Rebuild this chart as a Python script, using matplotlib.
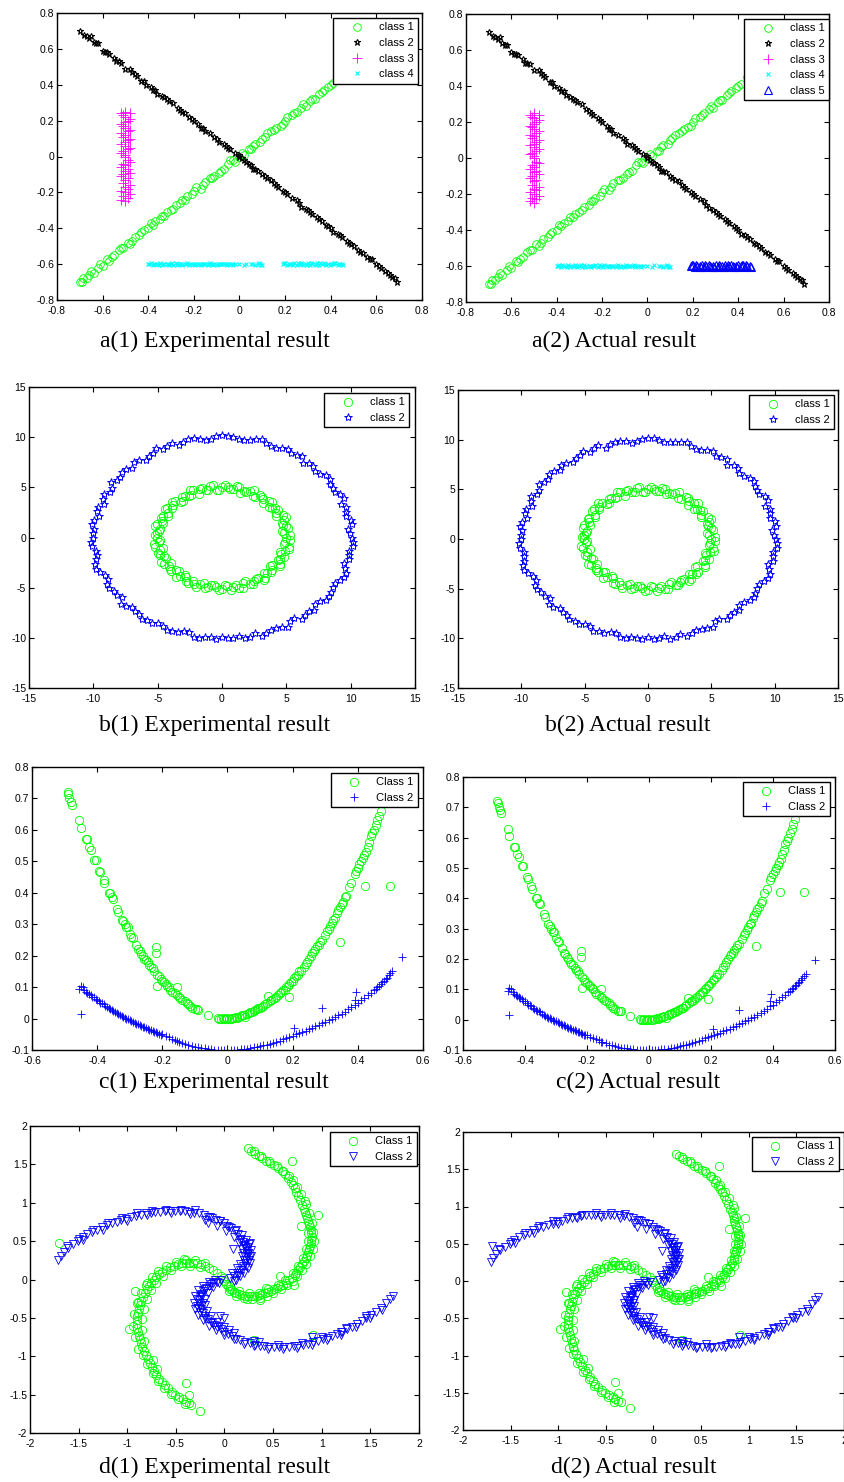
"""
clusters_resultados.py
======================
Comparación entre el resultado experimental del agrupamiento y la
clasificación real para cuatro conjuntos de datos sintéticos.
"""

import numpy as np
import matplotlib.pyplot as plt
from matplotlib.ticker import FixedLocator, FuncFormatter

plt.rcParams['axes.unicode_minus'] = False
plt.rcParams['font.family'] = ['Liberation Sans', 'DejaVu Sans']

# Colores tipo MATLAB
VERDE = '#00ff00'
AZUL = '#0000ff'
NEGRO = '#000000'
MAGENTA = '#ff00ff'
CIAN = '#00ffff'

ANCHO, ALTO = 845, 1482

# ---------------------------------------------------------------------------
# Datos (a): dos rectas cruzadas, una vertical y una horizontal
# ---------------------------------------------------------------------------
a_clase1 = [(-0.70, -0.70), (-0.69, -0.70), (-0.67, -0.68), (-0.65, -0.64), (-0.64, -0.65),
            (-0.62, -0.62), (-0.60, -0.61), (-0.58, -0.57), (-0.57, -0.58), (-0.55, -0.55),
            (-0.53, -0.52), (-0.51, -0.51), (-0.49, -0.48), (-0.48, -0.49), (-0.46, -0.45),
            (-0.44, -0.44), (-0.42, -0.41), (-0.40, -0.40), (-0.39, -0.37), (-0.37, -0.36),
            (-0.35, -0.35), (-0.33, -0.33), (-0.32, -0.31), (-0.30, -0.30), (-0.28, -0.27),
            (-0.26, -0.26), (-0.25, -0.24), (-0.23, -0.22), (-0.21, -0.21), (-0.19, -0.17),
            (-0.17, -0.18), (-0.15, -0.14), (-0.13, -0.12), (-0.11, -0.11), (-0.09, -0.09),
            (-0.07, -0.07), (-0.05, -0.04), (-0.04, -0.02), (-0.02, -0.03), (0.00, 0.00),
            (0.02, 0.01), (0.04, 0.04), (0.05, 0.04), (0.07, 0.07), (0.09, 0.08),
            (0.11, 0.11), (0.12, 0.13), (0.14, 0.14), (0.16, 0.16), (0.18, 0.17),
            (0.20, 0.20), (0.21, 0.22), (0.23, 0.23), (0.25, 0.25), (0.27, 0.27),
            (0.29, 0.28), (0.31, 0.31), (0.33, 0.32), (0.35, 0.35), (0.37, 0.37),
            (0.39, 0.39), (0.41, 0.41), (0.44, 0.45), (0.48, 0.48), (0.52, 0.52),
            (0.56, 0.57), (0.60, 0.60), (0.64, 0.64), (0.68, 0.68),
            (-0.685, -0.68), (-0.66, -0.66), (-0.61, -0.60), (-0.56, -0.56), (-0.52, -0.51),
            (-0.47, -0.47), (-0.43, -0.42), (-0.38, -0.38), (-0.34, -0.33), (-0.29, -0.29),
            (-0.24, -0.24), (-0.20, -0.19), (-0.16, -0.16), (-0.12, -0.12), (-0.08, -0.08),
            (-0.03, -0.02), (0.01, 0.02), (0.06, 0.06), (0.10, 0.10), (0.15, 0.15),
            (0.19, 0.18), (0.24, 0.24), (0.28, 0.29), (0.32, 0.32), (0.36, 0.36), (0.40, 0.40)]

a_clase2 = [(-0.70, 0.70), (-0.67, 0.67), (-0.66, 0.66), (-0.65, 0.67), (-0.64, 0.64),
            (-0.62, 0.63), (-0.60, 0.59), (-0.58, 0.58), (-0.57, 0.57), (-0.55, 0.55),
            (-0.54, 0.53), (-0.52, 0.52), (-0.50, 0.49), (-0.48, 0.49), (-0.47, 0.47),
            (-0.45, 0.45), (-0.43, 0.42), (-0.41, 0.40), (-0.39, 0.39), (-0.37, 0.37),
            (-0.36, 0.35), (-0.34, 0.34), (-0.33, 0.33), (-0.31, 0.31), (-0.29, 0.30),
            (-0.27, 0.27), (-0.25, 0.25), (-0.24, 0.24), (-0.22, 0.22), (-0.20, 0.20),
            (-0.18, 0.18), (-0.17, 0.16), (-0.15, 0.14), (-0.13, 0.13), (-0.11, 0.11),
            (-0.09, 0.08), (-0.07, 0.07), (-0.06, 0.06), (-0.04, 0.04), (-0.02, 0.02),
            (0.00, 0.01), (0.01, -0.01), (0.03, -0.03), (0.05, -0.05), (0.06, -0.07),
            (0.08, -0.08), (0.10, -0.10), (0.12, -0.12), (0.14, -0.13), (0.16, -0.16),
            (0.17, -0.17), (0.19, -0.19), (0.21, -0.21), (0.23, -0.23), (0.25, -0.24),
            (0.27, -0.28), (0.29, -0.29), (0.31, -0.31), (0.32, -0.32), (0.34, -0.34),
            (0.36, -0.36), (0.38, -0.38), (0.40, -0.40), (0.41, -0.42), (0.43, -0.43),
            (0.45, -0.45), (0.47, -0.47), (0.49, -0.49), (0.50, -0.50), (0.52, -0.52),
            (0.54, -0.54), (0.56, -0.56), (0.58, -0.57), (0.60, -0.60), (0.62, -0.62),
            (0.64, -0.64), (0.66, -0.66), (0.68, -0.68), (0.69, -0.70),
            (-0.68, 0.68), (-0.63, 0.63), (-0.59, 0.58), (-0.53, 0.53), (-0.46, 0.46),
            (-0.42, 0.42), (-0.38, 0.37), (-0.32, 0.32), (-0.26, 0.26), (-0.21, 0.21),
            (-0.16, 0.16), (-0.10, 0.10), (-0.05, 0.05), (0.00, 0.00), (0.02, -0.02),
            (0.04, -0.04), (0.07, -0.07), (0.11, -0.11), (0.15, -0.15), (0.20, -0.20),
            (0.26, -0.26), (0.30, -0.30), (0.35, -0.35), (0.39, -0.39), (0.44, -0.44),
            (0.48, -0.48), (0.53, -0.53), (0.57, -0.57), (0.61, -0.61), (0.65, -0.65),
            (0.67, -0.67)]

a_clase3 = [(-0.50, -0.25), (-0.49, -0.23), (-0.51, -0.22), (-0.50, -0.20), (-0.49, -0.18),
            (-0.50, -0.17), (-0.51, -0.15), (-0.50, -0.13), (-0.49, -0.12), (-0.51, -0.10),
            (-0.50, -0.08), (-0.49, -0.07), (-0.50, -0.05), (-0.51, -0.04), (-0.49, -0.02),
            (-0.50, 0.00), (-0.50, 0.01), (-0.51, 0.03), (-0.49, 0.04), (-0.50, 0.06),
            (-0.50, 0.08), (-0.49, 0.09), (-0.51, 0.11), (-0.50, 0.12), (-0.49, 0.14),
            (-0.50, 0.16), (-0.51, 0.17), (-0.50, 0.19), (-0.49, 0.20), (-0.50, 0.22),
            (-0.51, 0.23), (-0.50, 0.25),
            (-0.52, -0.24), (-0.48, -0.21), (-0.52, -0.19), (-0.48, -0.16), (-0.52, -0.11),
            (-0.48, -0.09), (-0.52, -0.06), (-0.48, -0.03), (-0.52, 0.02), (-0.48, 0.05),
            (-0.52, 0.07), (-0.48, 0.10), (-0.52, 0.13), (-0.48, 0.15), (-0.52, 0.18),
            (-0.48, 0.21), (-0.52, 0.24), (-0.48, 0.24)]

a_clase4 = [(-0.40, -0.600), (-0.39, -0.595), (-0.38, -0.605), (-0.37, -0.598), (-0.36, -0.602),
            (-0.35, -0.596), (-0.34, -0.604), (-0.33, -0.600), (-0.32, -0.597), (-0.31, -0.603),
            (-0.30, -0.599), (-0.29, -0.605), (-0.28, -0.596), (-0.27, -0.601), (-0.26, -0.598),
            (-0.25, -0.603), (-0.24, -0.600), (-0.23, -0.596), (-0.22, -0.604), (-0.21, -0.599),
            (-0.20, -0.602), (-0.19, -0.597), (-0.18, -0.601), (-0.17, -0.605), (-0.16, -0.598),
            (-0.15, -0.600), (-0.14, -0.603), (-0.13, -0.596), (-0.12, -0.601), (-0.11, -0.599),
            (-0.10, -0.604), (-0.09, -0.598), (-0.08, -0.600), (-0.07, -0.602), (-0.06, -0.597),
            (-0.05, -0.601), (-0.04, -0.599), (-0.03, -0.604), (-0.02, -0.598), (0.00, -0.601),
            (0.02, -0.603), (0.03, -0.597), (0.05, -0.600), (0.07, -0.604), (0.08, -0.598),
            (0.09, -0.601), (0.10, -0.603),
            (-0.395, -0.602), (-0.375, -0.597), (-0.355, -0.603), (-0.335, -0.598), (-0.315, -0.601),
            (-0.295, -0.596), (-0.275, -0.604), (-0.255, -0.599), (-0.235, -0.602), (-0.215, -0.597),
            (-0.195, -0.603), (-0.175, -0.598), (-0.155, -0.602), (-0.135, -0.599), (-0.115, -0.604),
            (-0.095, -0.597), (-0.075, -0.601), (-0.055, -0.603), (-0.035, -0.598), (0.085, -0.596),
            (0.095, -0.605), (0.06, -0.602)]

# grupo derecho: clase 4 en el experimento, clase 5 en la realidad
a_clase5 = [(0.19, -0.600), (0.20, -0.595), (0.21, -0.605), (0.22, -0.598), (0.23, -0.602),
            (0.24, -0.594), (0.25, -0.604), (0.26, -0.599), (0.27, -0.596), (0.28, -0.603),
            (0.29, -0.600), (0.30, -0.594), (0.31, -0.605), (0.32, -0.598), (0.33, -0.601),
            (0.34, -0.596), (0.35, -0.603), (0.36, -0.599), (0.37, -0.594), (0.38, -0.604),
            (0.39, -0.600), (0.40, -0.597), (0.41, -0.602), (0.42, -0.595), (0.43, -0.603),
            (0.44, -0.599), (0.45, -0.601),
            (0.195, -0.592), (0.215, -0.597), (0.235, -0.606), (0.255, -0.593), (0.275, -0.602),
            (0.295, -0.607), (0.315, -0.593), (0.335, -0.604), (0.355, -0.594), (0.375, -0.601),
            (0.395, -0.606), (0.415, -0.593), (0.435, -0.597), (0.455, -0.603)]

# ---------------------------------------------------------------------------
# Datos (b): dos anillos concéntricos
# ---------------------------------------------------------------------------
b_interior = [(5.00, 0.00), (4.78, 0.42), (5.12, 0.90), (4.73, 1.27), (4.79, 1.74), (4.76, 2.22),
              (4.20, 2.43), (4.14, 2.90), (3.64, 3.05), (3.64, 3.64), (3.22, 3.83), (2.98, 4.26),
              (2.40, 4.16), (2.16, 4.62), (1.69, 4.65), (1.36, 5.07), (0.85, 4.83), (0.44, 5.03),
              (0.00, 5.00), (-0.42, 4.78), (-0.90, 5.12), (-1.27, 4.73), (-1.74, 4.79), (-2.22, 4.76),
              (-2.43, 4.20), (-2.90, 4.14), (-3.05, 3.64), (-3.64, 3.64), (-3.83, 3.22), (-4.26, 2.98),
              (-4.16, 2.40), (-4.62, 2.16), (-4.65, 1.69), (-5.07, 1.36), (-4.83, 0.85), (-5.03, 0.44),
              (-5.05, 0.00), (-4.88, -0.43), (-5.17, -0.91), (-4.78, -1.28), (-4.79, -1.74), (-4.35, -2.03),
              (-4.50, -2.60), (-4.10, -2.87), (-3.94, -3.31), (-3.36, -3.36), (-3.25, -3.87), (-2.78, -3.97),
              (-2.63, -4.55), (-2.16, -4.62), (-1.68, -4.61), (-1.35, -5.02), (-0.84, -4.73), (-0.44, -4.98),
              (0.00, -5.10), (0.42, -4.83), (0.88, -4.97), (1.35, -5.02), (1.64, -4.51), (2.18, -4.67),
              (2.50, -4.33), (2.81, -4.01), (3.37, -4.02), (3.50, -3.50), (3.91, -3.28), (3.89, -2.72),
              (4.50, -2.60), (4.53, -2.11), (4.56, -1.66), (4.88, -1.31), (5.17, -0.91), (4.88, -0.43),
              (5.29, 0.23), (4.66, 0.62), (4.98, 1.10), (4.63, 1.46), (4.94, 2.05), (4.21, 2.19),
              (4.38, 2.79), (3.89, 2.98), (3.91, 3.58), (3.18, 3.46), (3.14, 4.08), (2.58, 4.05),
              (2.45, 4.70), (1.90, 4.57), (1.41, 4.48), (1.13, 5.12), (0.64, 4.81), (0.23, 5.19),
              (-0.21, 4.75), (-0.69, 5.25), (-1.06, 4.78), (-1.57, 4.96), (-1.80, 4.34), (-2.47, 4.75),
              (-2.60, 4.09), (-3.11, 4.04), (-3.21, 3.50), (-3.91, 3.58), (-3.89, 2.98), (-4.43, 2.82),
              (-4.17, 2.17), (-4.76, 1.97), (-4.58, 1.44), (-5.17, 1.14), (-4.86, 0.64), (-5.24, 0.23),
              (-4.80, -0.21), (-5.25, -0.69), (-4.59, -1.02), (-4.96, -1.57), (-4.53, -1.88), (-4.75, -2.47),
              (-4.00, -2.55), (-4.08, -3.14), (-3.57, -3.28), (-3.58, -3.91), (-2.86, -3.73), (-2.79, -4.38),
              (-2.26, -4.35), (-2.05, -4.94), (-1.43, -4.53), (-1.10, -4.98), (-0.63, -4.76), (-0.23, -5.24),
              (0.21, -4.75), (0.69, -5.20), (1.05, -4.73), (1.60, -5.06), (1.80, -4.34), (2.40, -4.61),
              (2.63, -4.13), (3.26, -4.24), (3.24, -3.54), (3.80, -3.48), (3.73, -2.86), (4.47, -2.85),
              (4.35, -2.26), (4.80, -1.99), (4.53, -1.43), (5.22, -1.16), (4.81, -0.63), (5.29, -0.23)]

b_exterior = [(10.10, 0.00), (9.81, 0.86), (10.05, 1.77), (9.66, 2.59), (9.21, 3.35), (9.20, 4.29),
              (8.62, 4.98), (8.39, 5.88), (7.58, 6.37), (7.11, 7.11), (6.27, 7.47), (5.80, 8.27),
              (5.10, 8.83), (4.17, 8.92), (3.42, 9.40), (2.63, 9.80), (1.72, 9.75), (0.87, 10.01),
              (0.00, 10.20), (-0.86, 9.86), (-1.74, 9.85), (-2.63, 9.80), (-3.35, 9.21), (-4.27, 9.15),
              (-5.13, 8.88), (-5.71, 8.15), (-6.46, 7.70), (-6.96, 6.96), (-7.81, 6.56), (-8.19, 5.74),
              (-8.57, 4.95), (-9.20, 4.29), (-9.16, 3.33), (-9.71, 2.60), (-9.95, 1.76), (-9.91, 0.87),
              (-10.00, 0.00), (-10.11, -0.88), (-9.75, -1.72), (-9.85, -2.64), (-9.45, -3.44), (-8.88, -4.15),
              (-8.75, -5.05), (-8.15, -5.71), (-7.85, -6.59), (-6.96, -6.96), (-6.43, -7.66), (-5.80, -8.27),
              (-4.95, -8.57), (-4.31, -9.24), (-3.44, -9.45), (-2.53, -9.42), (-1.77, -10.00), (-0.87, -9.96),
              (0.00, -9.90), (0.87, -10.01), (1.77, -10.05), (2.55, -9.52), (3.45, -9.49), (4.23, -9.06),
              (5.13, -8.88), (5.62, -8.03), (6.46, -7.70), (7.18, -7.18), (7.58, -6.36), (8.35, -5.85),
              (8.62, -4.98), (9.15, -4.27), (9.63, -3.51), (9.51, -2.55), (9.90, -1.75), (10.16, -0.89),
              (9.94, 0.44), (10.11, 1.34), (9.61, 2.13), (9.64, 3.04), (9.47, 3.93), (8.78, 4.57),
              (8.43, 5.37), (8.05, 6.18), (7.22, 6.62), (6.79, 7.41), (6.21, 8.09), (5.34, 8.39),
              (4.67, 8.96), (3.77, 9.10), (3.09, 9.78), (2.16, 9.76), (1.30, 9.81), (0.45, 10.14),
              (-0.44, 10.09), (-1.28, 9.71), (-2.19, 9.91), (-3.01, 9.54), (-3.91, 9.42), (-4.57, 8.78),
              (-5.40, 8.47), (-5.94, 7.73), (-6.86, 7.48), (-7.44, 6.83), (-7.89, 6.06), (-8.64, 5.50),
              (-8.74, 4.55), (-9.24, 3.83), (-9.64, 3.04), (-9.56, 2.12), (-10.11, 1.34), (-10.04, 0.44),
              (-10.19, -0.45), (-9.81, -1.30), (-9.81, -2.17), (-9.78, -3.09), (-9.10, -3.77), (-8.96, -4.67),
              (-8.43, -5.37), (-7.77, -5.97), (-7.48, -6.86), (-6.73, -7.33), (-6.21, -8.09), (-5.42, -8.51),
              (-4.57, -8.78), (-3.85, -9.29), (-2.95, -9.35), (-2.19, -9.91), (-1.31, -9.91), (-0.44, -10.09),
              (0.44, -10.04), (1.30, -9.81), (2.19, -9.91), (3.09, -9.78), (3.81, -9.19), (4.67, -8.96),
              (5.29, -8.30), (6.21, -8.09), (6.76, -7.37), (7.22, -6.62), (8.05, -6.18), (8.47, -5.40),
              (8.78, -4.57), (9.47, -3.93), (9.54, -3.01), (9.86, -2.18), (9.86, -1.30), (10.19, -0.45)]

# ---------------------------------------------------------------------------
# Datos (c): dos parábolas
# ---------------------------------------------------------------------------
c_clase1 = [(-0.490, 0.720), (-0.488, 0.715), (-0.485, 0.700), (-0.480, 0.690), (-0.478, 0.680),
            (-0.455, 0.630), (-0.450, 0.605), (-0.435, 0.570), (-0.432, 0.570), (-0.425, 0.545),
            (-0.420, 0.535), (-0.410, 0.505), (-0.405, 0.505), (-0.395, 0.470), (-0.390, 0.465),
            (-0.380, 0.440), (-0.378, 0.430), (-0.365, 0.400), (-0.360, 0.400), (-0.355, 0.385),
            (-0.350, 0.380), (-0.340, 0.350), (-0.335, 0.340), (-0.325, 0.315), (-0.320, 0.310),
            (-0.315, 0.300), (-0.310, 0.290), (-0.305, 0.290), (-0.300, 0.270), (-0.295, 0.260),
            (-0.290, 0.255), (-0.280, 0.235), (-0.275, 0.220), (-0.270, 0.215), (-0.265, 0.205),
            (-0.260, 0.200), (-0.255, 0.190), (-0.250, 0.185), (-0.245, 0.180), (-0.240, 0.170),
            (-0.235, 0.165), (-0.230, 0.160), (-0.225, 0.150), (-0.215, 0.140), (-0.210, 0.135),
            (-0.205, 0.125), (-0.200, 0.120), (-0.195, 0.115), (-0.190, 0.110), (-0.185, 0.105),
            (-0.180, 0.100), (-0.175, 0.090), (-0.170, 0.085), (-0.160, 0.080), (-0.155, 0.075),
            (-0.150, 0.070), (-0.145, 0.065), (-0.140, 0.060), (-0.130, 0.055), (-0.125, 0.050),
            (-0.120, 0.045), (-0.115, 0.040), (-0.110, 0.035), (-0.100, 0.030), (-0.095, 0.030),
            (-0.090, 0.028),
            (-0.030, 0.003), (-0.025, -0.002), (-0.020, 0.000), (-0.015, 0.002), (-0.010, -0.001),
            (-0.005, 0.000), (0.000, 0.002), (0.005, 0.000), (0.010, -0.002), (0.015, 0.003),
            (0.020, 0.001), (0.025, 0.004), (0.030, 0.002), (0.035, 0.006), (0.040, 0.008),
            (0.045, 0.010), (0.050, 0.012), (0.055, 0.006), (0.060, 0.015), (0.065, 0.018),
            (0.070, 0.020), (0.075, 0.022), (0.080, 0.025), (0.085, 0.026), (0.090, 0.030),
            (0.095, 0.033), (0.100, 0.035), (0.105, 0.038), (0.110, 0.040), (0.115, 0.045),
            (0.120, 0.050), (0.130, 0.055), (0.135, 0.060), (0.140, 0.062), (0.145, 0.065),
            (0.150, 0.070), (0.155, 0.075), (0.160, 0.080), (0.165, 0.085), (0.170, 0.090),
            (0.175, 0.092), (0.180, 0.100), (0.185, 0.105), (0.190, 0.110), (0.195, 0.115),
            (0.200, 0.120), (0.205, 0.130), (0.210, 0.135), (0.215, 0.140), (0.220, 0.150),
            (0.225, 0.150), (0.235, 0.165), (0.240, 0.175), (0.245, 0.180), (0.250, 0.190),
            (0.255, 0.200), (0.260, 0.210), (0.265, 0.215), (0.270, 0.220), (0.275, 0.230),
            (0.280, 0.235), (0.285, 0.245), (0.290, 0.250), (0.300, 0.265), (0.305, 0.280),
            (0.310, 0.285), (0.315, 0.295), (0.320, 0.305), (0.325, 0.315), (0.330, 0.320),
            (0.335, 0.335), (0.340, 0.345), (0.345, 0.355), (0.350, 0.365), (0.355, 0.370),
            (0.360, 0.385), (0.365, 0.390), (0.380, 0.430), (0.390, 0.460), (0.395, 0.470),
            (0.400, 0.480), (0.405, 0.490), (0.410, 0.500), (0.415, 0.510), (0.420, 0.520),
            (0.425, 0.530), (0.430, 0.545), (0.435, 0.560), (0.440, 0.580), (0.445, 0.590),
            (0.450, 0.600), (0.455, 0.615), (0.460, 0.630), (0.465, 0.645), (0.470, 0.660),
            (0.480, 0.690), (0.490, 0.720),
            # puntos sueltos
            (-0.220, 0.228), (-0.220, 0.208), (-0.215, 0.105), (-0.155, 0.100), (-0.060, 0.012),
            (0.125, 0.072), (0.190, 0.068), (0.345, 0.243), (0.372, 0.418), (0.422, 0.422),
            (0.500, 0.420)]

c_clase2 = [(-0.455, 0.095), (-0.450, 0.105), (-0.445, 0.100), (-0.440, 0.090), (-0.435, 0.085),
            (-0.430, 0.082), (-0.425, 0.078), (-0.420, 0.075), (-0.415, 0.070), (-0.410, 0.068),
            (-0.405, 0.063), (-0.400, 0.060), (-0.395, 0.055), (-0.390, 0.050), (-0.385, 0.048),
            (-0.380, 0.045), (-0.375, 0.040), (-0.370, 0.036), (-0.365, 0.033), (-0.360, 0.030),
            (-0.355, 0.027), (-0.350, 0.024), (-0.345, 0.020), (-0.340, 0.017), (-0.335, 0.013),
            (-0.330, 0.010), (-0.325, 0.007), (-0.320, 0.004), (-0.315, 0.002), (-0.310, 0.000),
            (-0.305, -0.003), (-0.300, -0.005), (-0.295, -0.008), (-0.290, -0.010), (-0.285, -0.013),
            (-0.280, -0.016), (-0.275, -0.018), (-0.270, -0.020), (-0.265, -0.023), (-0.260, -0.026),
            (-0.255, -0.028), (-0.250, -0.031), (-0.245, -0.033), (-0.240, -0.035), (-0.235, -0.037),
            (-0.230, -0.040), (-0.225, -0.042), (-0.220, -0.044), (-0.215, -0.046), (-0.210, -0.050),
            (-0.205, -0.052), (-0.200, -0.050), (-0.190, -0.056), (-0.180, -0.060), (-0.170, -0.064),
            (-0.160, -0.068), (-0.155, -0.072), (-0.150, -0.075), (-0.140, -0.078), (-0.130, -0.082),
            (-0.120, -0.085), (-0.110, -0.088), (-0.100, -0.090), (-0.090, -0.092), (-0.080, -0.094),
            (-0.070, -0.095), (-0.060, -0.097), (-0.050, -0.098), (-0.040, -0.099), (-0.030, -0.100),
            (-0.020, -0.100), (-0.010, -0.100), (0.000, -0.100), (0.010, -0.100), (0.020, -0.100),
            (0.030, -0.099), (0.040, -0.098), (0.050, -0.097), (0.060, -0.096), (0.070, -0.094),
            (0.080, -0.092), (0.090, -0.090), (0.100, -0.088), (0.110, -0.085), (0.120, -0.083),
            (0.130, -0.080), (0.140, -0.077), (0.150, -0.074), (0.160, -0.070), (0.170, -0.066),
            (0.180, -0.062), (0.190, -0.058), (0.200, -0.054), (0.210, -0.050), (0.220, -0.047),
            (0.230, -0.043), (0.240, -0.038), (0.250, -0.034), (0.260, -0.030), (0.270, -0.025),
            (0.280, -0.020), (0.290, -0.015), (0.300, -0.010), (0.310, -0.005), (0.320, 0.000),
            (0.330, 0.005), (0.340, 0.010), (0.350, 0.016), (0.360, 0.022), (0.370, 0.030),
            (0.380, 0.036), (0.390, 0.044), (0.400, 0.050), (0.410, 0.058), (0.420, 0.066),
            (0.430, 0.074), (0.440, 0.082), (0.450, 0.090), (0.455, 0.095), (0.460, 0.100),
            (0.465, 0.105), (0.470, 0.110), (0.475, 0.115), (0.480, 0.120), (0.485, 0.125),
            (0.490, 0.130), (0.495, 0.138), (0.500, 0.145), (0.505, 0.152),
            # puntos sueltos
            (-0.450, 0.015), (0.290, 0.033), (0.205, -0.030), (0.395, 0.083), (0.535, 0.197),
            (0.390, 0.060)]

# ---------------------------------------------------------------------------
# Datos (d): cuatro brazos en espiral
# ---------------------------------------------------------------------------
d_verde_1 = [(-0.02, 0.02), (0.00, -0.02), (0.02, -0.06), (0.04, -0.09), (0.06, -0.12), (0.08, -0.14),
             (0.10, -0.16), (0.12, -0.17), (0.15, -0.19), (0.18, -0.20), (0.21, -0.21), (0.24, -0.22),
             (0.27, -0.21), (0.30, -0.22), (0.33, -0.21), (0.36, -0.20), (0.39, -0.19), (0.42, -0.18),
             (0.45, -0.16), (0.48, -0.15), (0.51, -0.13), (0.54, -0.11), (0.57, -0.09), (0.60, -0.07),
             (0.63, -0.04), (0.66, -0.01), (0.69, 0.02), (0.72, 0.06), (0.74, 0.09), (0.76, 0.12),
             (0.78, 0.16), (0.80, 0.20), (0.82, 0.24), (0.84, 0.28), (0.85, 0.32), (0.86, 0.36),
             (0.87, 0.40), (0.88, 0.44), (0.89, 0.48), (0.89, 0.52), (0.90, 0.56), (0.89, 0.60),
             (0.89, 0.64), (0.88, 0.68), (0.87, 0.72), (0.86, 0.76), (0.85, 0.80), (0.84, 0.84),
             (0.83, 0.88), (0.82, 0.92), (0.80, 0.97), (0.78, 1.03), (0.76, 1.09), (0.74, 1.14),
             (0.72, 1.19), (0.70, 1.23), (0.68, 1.27), (0.65, 1.32), (0.62, 1.37), (0.59, 1.41),
             (0.55, 1.45), (0.51, 1.49), (0.47, 1.52), (0.43, 1.55), (0.39, 1.58), (0.35, 1.61),
             (0.31, 1.64), (0.27, 1.68), (0.24, 1.71),
             (0.05, -0.15), (0.12, -0.21), (0.20, -0.24), (0.28, -0.25), (0.36, -0.24), (0.44, -0.21),
             (0.50, -0.17), (0.58, -0.13), (0.64, -0.07), (0.70, -0.02), (0.75, 0.04), (0.80, 0.12),
             (0.84, 0.20), (0.88, 0.30), (0.91, 0.40), (0.92, 0.50), (0.91, 0.62), (0.90, 0.74),
             (0.87, 0.86), (0.84, 0.98), (0.06, -0.08), (0.15, -0.15), (0.25, -0.18), (0.35, -0.17),
             (0.45, -0.13), (0.55, -0.07), (0.62, 0.00), (0.70, 0.08), (0.76, 0.18), (0.81, 0.28),
             (0.84, 0.40), (0.86, 0.50), (0.86, 0.60),
             (0.83, 1.02), (0.79, 1.12), (0.75, 1.20), (0.70, 1.29), (0.66, 1.35), (0.60, 1.41),
             (0.54, 1.48), (0.46, 1.55), (0.38, 1.61), (0.30, 1.67)]

d_verde_2 = [(-0.04, 0.05), (-0.08, 0.08), (-0.12, 0.12), (-0.16, 0.15), (-0.20, 0.18), (-0.24, 0.20),
             (-0.28, 0.21), (-0.32, 0.22), (-0.36, 0.22), (-0.40, 0.22), (-0.44, 0.21), (-0.48, 0.20),
             (-0.52, 0.18), (-0.56, 0.16), (-0.60, 0.13), (-0.64, 0.10), (-0.67, 0.07), (-0.70, 0.03),
             (-0.73, -0.01), (-0.76, -0.05), (-0.78, -0.09), (-0.80, -0.13), (-0.82, -0.18), (-0.84, -0.23),
             (-0.86, -0.28), (-0.87, -0.33), (-0.88, -0.38), (-0.89, -0.43), (-0.90, -0.48), (-0.90, -0.53),
             (-0.90, -0.58), (-0.90, -0.63), (-0.89, -0.68), (-0.88, -0.73), (-0.87, -0.78), (-0.86, -0.83),
             (-0.85, -0.88), (-0.83, -0.93), (-0.81, -0.98), (-0.79, -1.04), (-0.77, -1.09), (-0.75, -1.14),
             (-0.72, -1.19), (-0.70, -1.24), (-0.67, -1.29), (-0.64, -1.34), (-0.61, -1.38), (-0.58, -1.42),
             (-0.54, -1.46), (-0.51, -1.50), (-0.47, -1.53), (-0.43, -1.56), (-0.40, -1.59), (-0.37, -1.61),
             (-0.34, -1.63),
             (-0.20, 0.22), (-0.30, 0.25), (-0.40, 0.26), (-0.50, 0.23), (-0.60, 0.18), (-0.68, 0.11),
             (-0.75, 0.03), (-0.81, -0.07), (-0.86, -0.18), (-0.90, -0.30), (-0.93, -0.45), (-0.94, -0.60),
             (-0.92, -0.75), (-0.89, -0.90), (-0.25, 0.16), (-0.35, 0.18), (-0.45, 0.17), (-0.55, 0.12),
             (-0.63, 0.05), (-0.70, -0.04), (-0.76, -0.14), (-0.80, -0.25), (-0.83, -0.38), (-0.85, -0.52),
             (-0.85, -0.66), (-0.83, -0.80),
             (-0.84, -0.98), (-0.80, -1.10), (-0.74, -1.22), (-0.68, -1.32), (-0.62, -1.41), (-0.55, -1.49),
             (-0.48, -1.56), (-0.41, -1.62), (-0.74, -1.05), (-0.69, -1.17)]

d_verde_sueltos = [(0.69, 1.55), (0.96, 0.84), (0.79, 0.70), (0.57, 0.05), (0.71, -0.07), (0.43, -0.11),
                   (0.36, -0.27), (0.23, -0.25), (0.30, -0.79), (0.91, -0.72), (-0.80, -0.04),
                   (-0.92, -0.15), (-0.89, -0.29), (-0.98, -0.65), (-0.42, 0.27), (-0.40, -1.35),
                   (-0.37, -1.51), (-0.25, -1.71), (-0.37, 0.21)]

d_azul_1 = [(0.06, 0.02), (0.10, 0.05), (0.13, 0.09), (0.16, 0.13), (0.19, 0.17), (0.21, 0.21),
            (0.22, 0.25), (0.23, 0.29), (0.23, 0.33), (0.23, 0.37), (0.22, 0.41), (0.21, 0.45),
            (0.19, 0.49), (0.17, 0.53), (0.14, 0.59), (0.11, 0.63), (0.07, 0.67), (0.03, 0.70),
            (-0.01, 0.73), (-0.05, 0.76), (-0.09, 0.78), (-0.13, 0.80), (-0.17, 0.82), (-0.21, 0.84),
            (-0.26, 0.86), (-0.31, 0.87), (-0.36, 0.88), (-0.41, 0.89), (-0.46, 0.89), (-0.51, 0.89),
            (-0.56, 0.89), (-0.61, 0.89), (-0.66, 0.88), (-0.71, 0.88), (-0.76, 0.87), (-0.81, 0.86),
            (-0.86, 0.84), (-0.91, 0.83), (-0.96, 0.81), (-1.01, 0.79), (-1.06, 0.77), (-1.11, 0.75),
            (-1.16, 0.73), (-1.21, 0.71), (-1.26, 0.68), (-1.31, 0.65), (-1.36, 0.62), (-1.41, 0.59),
            (-1.46, 0.55), (-1.51, 0.50), (-1.56, 0.46), (-1.61, 0.41), (-1.65, 0.36), (-1.68, 0.31),
            (-1.71, 0.26),
            (0.12, 0.00), (0.16, 0.04), (0.20, 0.09), (0.24, 0.15), (0.26, 0.22), (0.27, 0.30),
            (0.27, 0.38), (0.25, 0.46), (0.22, 0.52), (0.18, 0.58), (0.12, 0.64), (0.05, 0.69),
            (-0.05, 0.76), (-0.15, 0.82), (0.10, -0.02), (0.16, 0.20), (0.18, 0.30), (0.18, 0.40),
            (0.15, 0.48), (0.10, 0.56), (0.02, 0.63), (-0.08, 0.70), (-0.20, 0.78),
            (0.14, 0.06), (0.18, 0.12), (0.22, 0.18), (0.25, 0.26), (0.24, 0.34), (0.20, 0.44),
            (0.16, 0.52), (0.20, 0.25), (0.19, 0.35), (0.08, 0.08), (0.13, 0.15), (0.24, 0.42),
            (-0.30, 0.90), (-0.45, 0.91), (-0.60, 0.91), (-0.75, 0.89), (-0.90, 0.86), (-1.05, 0.80),
            (-1.20, 0.74), (-1.35, 0.65), (-1.50, 0.53), (-1.62, 0.43), (-0.35, 0.85), (-0.55, 0.86),
            (-0.80, 0.84), (-1.00, 0.76), (-1.25, 0.65), (-1.45, 0.51)]

d_azul_2 = [(-0.04, -0.01), (-0.08, -0.03), (-0.12, -0.05), (-0.16, -0.08), (-0.19, -0.11), (-0.22, -0.15),
            (-0.24, -0.19), (-0.25, -0.23), (-0.26, -0.27), (-0.26, -0.31), (-0.25, -0.35), (-0.24, -0.39),
            (-0.22, -0.43), (-0.20, -0.47), (-0.17, -0.51), (-0.14, -0.55), (-0.11, -0.59), (-0.08, -0.62),
            (-0.04, -0.65), (0.00, -0.68), (0.04, -0.71), (0.08, -0.74), (0.12, -0.77), (0.16, -0.79),
            (0.21, -0.81), (0.26, -0.83), (0.31, -0.85), (0.36, -0.86), (0.41, -0.87), (0.46, -0.88),
            (0.51, -0.88), (0.56, -0.88), (0.61, -0.88), (0.66, -0.88), (0.71, -0.87), (0.76, -0.86),
            (0.81, -0.85), (0.86, -0.84), (0.91, -0.82), (0.96, -0.80), (1.01, -0.78), (1.06, -0.76),
            (1.11, -0.74), (1.16, -0.71), (1.21, -0.68), (1.26, -0.65), (1.31, -0.62), (1.36, -0.58),
            (1.41, -0.54), (1.46, -0.50), (1.51, -0.46), (1.56, -0.42), (1.61, -0.37), (1.66, -0.31),
            (1.70, -0.26), (1.73, -0.22),
            (-0.10, 0.00), (-0.16, -0.03), (-0.22, -0.08), (-0.27, -0.14), (-0.30, -0.22), (-0.31, -0.30),
            (-0.30, -0.38), (-0.27, -0.46), (-0.22, -0.53), (-0.16, -0.60), (-0.09, -0.66), (0.00, -0.72),
            (0.10, -0.78), (0.20, -0.84), (-0.06, -0.05), (-0.12, -0.10), (-0.17, -0.17), (-0.20, -0.25),
            (-0.20, -0.33), (-0.18, -0.41), (-0.14, -0.48), (-0.08, -0.55), (0.00, -0.62), (0.10, -0.70),
            (-0.14, -0.06), (-0.20, -0.12), (-0.24, -0.20), (-0.28, -0.26), (-0.28, -0.34), (-0.25, -0.42),
            (-0.20, -0.50), (-0.13, -0.57), (-0.22, -0.30), (-0.23, -0.22), (-0.06, -0.60), (0.05, -0.66),
            (0.30, -0.87), (0.45, -0.90), (0.60, -0.90), (0.75, -0.89), (0.90, -0.85), (1.05, -0.79),
            (1.20, -0.72), (1.35, -0.62), (1.50, -0.50), (1.62, -0.40), (0.35, -0.82), (0.55, -0.85),
            (0.80, -0.83), (1.00, -0.75), (1.25, -0.63), (1.45, -0.48)]

d_azul_sueltos = [(-0.17, 0.73), (0.09, 0.40), (0.26, 0.47), (0.26, 0.30), (0.24, 0.35), (-0.27, -0.37),
                  (-0.05, -0.48), (0.00, -0.50), (0.30, -0.80), (0.90, -0.75), (1.20, -0.68)]

# punto que el experimento asigna a la clase 1 y en realidad es clase 2
d_dudoso = [(-1.70, 0.47)]

# Ejes y textos
TICKS_A = [-0.8, -0.6, -0.4, -0.2, 0, 0.2, 0.4, 0.6, 0.8]
TICKS_B = [-15, -10, -5, 0, 5, 10, 15]
TICKS_CX = [-0.6, -0.4, -0.2, 0, 0.2, 0.4, 0.6]
TICKS_CY = [-0.1, 0, 0.1, 0.2, 0.3, 0.4, 0.5, 0.6, 0.7, 0.8]
TICKS_D = [-2, -1.5, -1, -0.5, 0, 0.5, 1, 1.5, 2]

TITULOS = ['a(1) Experimental result', 'a(2) Actual result',
           'b(1) Experimental result', 'b(2) Actual result',
           'c(1) Experimental result', 'c(2) Actual result',
           'd(1) Experimental result', 'd(2) Actual result']


def caja(izq, arriba, der, abajo):
    """Convierte una caja en píxeles a fracciones de figura."""
    return [izq / ANCHO, 1 - abajo / ALTO, (der - izq) / ANCHO, (abajo - arriba) / ALTO]


def crear_ejes(fig, pix, ticks_x, ticks_y):
    ax = fig.add_axes(caja(*pix))
    ax.set_xlim(ticks_x[0], ticks_x[-1])
    ax.set_ylim(ticks_y[0], ticks_y[-1])
    ax.xaxis.set_major_locator(FixedLocator(ticks_x))
    ax.yaxis.set_major_locator(FixedLocator(ticks_y))
    fmt = FuncFormatter(lambda v, p: f'{round(v, 2):g}')
    ax.xaxis.set_major_formatter(fmt)
    ax.yaxis.set_major_formatter(fmt)
    ax.tick_params(direction='in', length=3.5, width=0.8, top=True, right=True,
                   labelsize=7.5, colors='black')
    ax.tick_params(axis='x', pad=4)
    ax.tick_params(axis='y', pad=2)
    for lado in ax.spines.values():
        lado.set_linewidth(1.0)
    return ax


def puntos(ax, datos, marcador, color, ms, mew=0.6, etiqueta=None):
    arr = np.array(datos)
    ax.plot(arr[:, 0], arr[:, 1], linestyle='none', marker=marcador, color=color,
            markerfacecolor='none', markeredgecolor=color, markersize=ms,
            markeredgewidth=mew, label=etiqueta)


def leyenda(ax, fig, der, arriba):
    leg = ax.legend(loc='upper right', bbox_to_anchor=(der / ANCHO, 1 - arriba / ALTO),
                    bbox_transform=fig.transFigure, fontsize=8, frameon=True,
                    fancybox=False, edgecolor='black', framealpha=1, borderaxespad=0,
                    borderpad=0.4, labelspacing=0.5, handlelength=3.4, handletextpad=0.3)
    leg.get_frame().set_linewidth(1.0)


def fila_a(fig):
    for k, pix in enumerate([(57, 13, 422, 300), (466, 14, 829, 302)]):
        ax = crear_ejes(fig, pix, TICKS_A, TICKS_A)
        puntos(ax, a_clase1, 'o', VERDE, 5.5, etiqueta='class 1')
        puntos(ax, a_clase2, '*', NEGRO, 5, mew=0.8, etiqueta='class 2')
        puntos(ax, a_clase3, '+', MAGENTA, 6.5, etiqueta='class 3')
        puntos(ax, a_clase4, 'x', CIAN, 3.5, mew=0.8, etiqueta='class 4')
        if k == 0:
            puntos(ax, a_clase5, 'x', CIAN, 3.5, mew=0.8)
            leyenda(ax, fig, 418, 18)
        else:
            puntos(ax, a_clase5, '^', AZUL, 6, mew=0.8, etiqueta='class 5')
            leyenda(ax, fig, 829, 19)


def fila_b(fig):
    for pix, ley in [((29, 387, 415, 688), (409, 393)), ((458, 390, 838, 688), (834, 395))]:
        ax = crear_ejes(fig, pix, TICKS_B, TICKS_B)
        puntos(ax, b_interior, 'o', VERDE, 6, etiqueta='class 1')
        puntos(ax, b_exterior, '*', AZUL, 6, mew=0.7, etiqueta='class 2')
        leyenda(ax, fig, *ley)


def fila_c(fig):
    for pix, ley in [((32, 767, 423, 1050), (418, 773)), ((463, 777, 835, 1050), (830, 782))]:
        ax = crear_ejes(fig, pix, TICKS_CX, TICKS_CY)
        puntos(ax, c_clase1, 'o', VERDE, 6, etiqueta='Class 1')
        puntos(ax, c_clase2, '+', AZUL, 6, etiqueta='Class 2')
        leyenda(ax, fig, *ley)


def fila_d(fig):
    for k, (pix, ley) in enumerate([((30, 1126, 419, 1433), (417, 1132)),
                                     ((463, 1132, 844, 1430), (839, 1137))]):
        ax = crear_ejes(fig, pix, TICKS_D, TICKS_D)
        puntos(ax, d_verde_1 + d_verde_2 + d_verde_sueltos, 'o', VERDE, 6, etiqueta='Class 1')
        puntos(ax, d_azul_1 + d_azul_2 + d_azul_sueltos, 'v', AZUL, 6, etiqueta='Class 2')
        if k == 0:
            puntos(ax, d_dudoso, 'o', VERDE, 6)
        else:
            puntos(ax, d_dudoso, 'v', AZUL, 6)
        leyenda(ax, fig, *ley)


def main():
    fig = plt.figure(figsize=(ANCHO / 100, ALTO / 100), dpi=100)
    fila_a(fig)
    fila_b(fig)
    fila_c(fig)
    fila_d(fig)

    # Pies de figura
    centros = [(215, 341), (614, 341), (215, 725), (628, 725),
               (214, 1082), (638, 1082), (215, 1467), (634, 1467)]
    for texto, (cx, cy) in zip(TITULOS, centros):
        fig.text(cx / ANCHO, 1 - cy / ALTO, texto, ha='center', va='center',
                 family='Liberation Serif', fontsize=17)

    fig.savefig('out.png', dpi=100)
    plt.close()


if __name__ == '__main__':
    main()
